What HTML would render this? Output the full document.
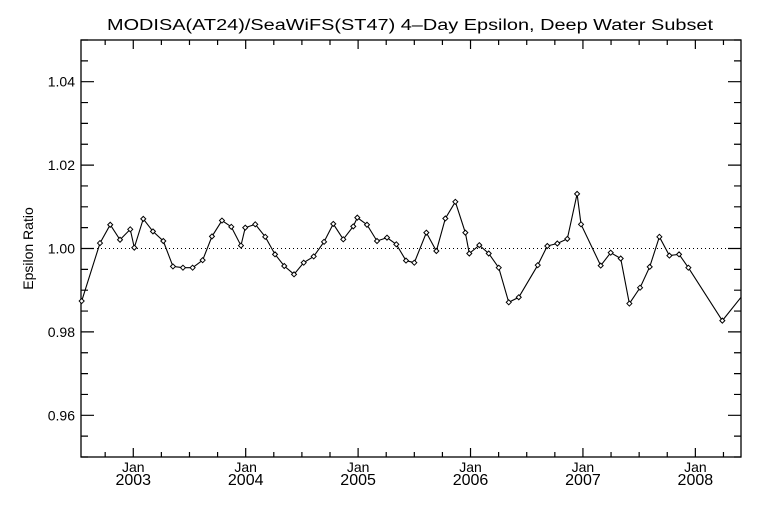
<!DOCTYPE html>
<html><head><meta charset="utf-8"><style>
html,body{margin:0;padding:0;background:#fff;}
svg{display:block;font-family:"Liberation Sans",sans-serif;}
</style></head><body>
<svg id="chart" width="768" height="512" viewBox="0 0 768 512"></svg>
<script>
const years = [2002.541,2002.704,2002.795,2002.882,2002.973,2003.009,2003.089,2003.175,2003.267,2003.353,2003.442,2003.528,2003.617,2003.700,2003.789,2003.872,2003.958,2003.996,2004.085,2004.174,2004.261,2004.343,2004.430,2004.516,2004.605,2004.697,2004.779,2004.868,2004.957,2004.993,2005.079,2005.168,2005.257,2005.340,2005.426,2005.500,2005.607,2005.696,2005.776,2005.865,2005.954,2005.989,2006.078,2006.162,2006.251,2006.340,2006.429,2006.598,2006.683,2006.772,2006.861,2006.948,2006.983,2007.158,2007.247,2007.336,2007.413,2007.508,2007.594,2007.680,2007.769,2007.855,2007.938,2008.240,2008.406];
const epsilon = [0.9874,1.0013,1.0057,1.0021,1.0046,1.0002,1.0071,1.0041,1.0018,0.9957,0.9954,0.9954,0.9972,1.0029,1.0067,1.0052,1.0007,1.0050,1.0058,1.0028,0.9986,0.9958,0.9938,0.9966,0.9981,1.0016,1.0059,1.0022,1.0053,1.0074,1.0057,1.0018,1.0026,1.0010,0.9971,0.9966,1.0038,0.9994,1.0072,1.0112,1.0038,0.9988,1.0008,0.9988,0.9954,0.9871,0.9883,0.9960,1.0006,1.0012,1.0023,1.0131,1.0058,0.9959,0.9990,0.9976,0.9868,0.9906,0.9956,1.0028,0.9983,0.9986,0.9954,0.9827,0.9883];
const yTickLabels = ["0.96","0.98","1.00","1.02","1.04"];
const xTickYears = [2003,2004,2005,2006,2007,2008];

const L=81,R=741,T=40,B=457;
const X0=2002.535,X1=2008.406,Y0=0.95,Y1=1.05;
const sx=v=>L+(v-X0)/(X1-X0)*(R-L);
const sy=v=>B-(v-Y0)/(Y1-Y0)*(B-T);
const svg=document.getElementById('chart');
const NS='http://www.w3.org/2000/svg';
function mk(tag,attrs){const e=document.createElementNS(NS,tag);for(const k in attrs)e.setAttribute(k,attrs[k]);svg.appendChild(e);return e;}

let t=mk('text',{x:107,y:30,'font-size':'15.5',textLength:'606',lengthAdjust:'spacingAndGlyphs'});


t.textContent='MODISA(AT24)/SeaWiFS(ST47) 4\u2013Day Epsilon, Deep Water Subset';

let fr=mk('rect',{x:L,y:T,width:R-L,height:B-T,fill:'none',stroke:'#000','stroke-width':1.3});



for(let i=0;i<=20;i++){
  const v=Y0+i*0.005, y=sy(v), major=(i%4===2);
  const len=major?13:7;
  let tk=mk('path',{d:`M${L},${y}h${len}M${R},${y}h${-len}`,stroke:'#000','stroke-width':1.2});
  
  
}
yTickLabels.forEach(s=>{
  let e=mk('text',{x:L-6,y:sy(parseFloat(s))+5,'text-anchor':'end','font-size':'14'});
  
  
  e.textContent=s;
});
let yt=mk('text',{x:33,y:(T+B)/2,'text-anchor':'middle','font-size':'14',transform:`rotate(-90 33 ${(T+B)/2})`});


yt.textContent='Epsilon Ratio';

for(let q=2002.75;q<=X1;q+=0.25){
  const x=sx(q), major=Math.abs(q-Math.round(q))<1e-6;
  const len=major?9:5;
  let tk=mk('path',{d:`M${x},${B}v${-len}M${x},${T}v${len}`,stroke:'#000','stroke-width':1.2});
  
  
}
xTickYears.forEach(yr=>{
  const x=sx(yr);
  let a=mk('text',{x:x,y:472,'text-anchor':'middle','font-size':'14'});
  
  
  a.textContent='Jan';
  let b=mk('text',{x:x,y:485,'text-anchor':'middle','font-size':'16'});
  
  
  b.textContent=String(yr);
});

let ref=mk('line',{x1:L,x2:R,y1:sy(1),y2:sy(1),stroke:'#000','stroke-width':1,'stroke-dasharray':'1,3'});



const pts=years.map((yr,i)=>[sx(yr),sy(epsilon[i])]);
let ln=mk('polyline',{points:pts.map(p=>p.join(',')).join(' '),fill:'none',stroke:'#000','stroke-width':1.1});


pts.forEach(p=>{
  if(p[0]>R-1)return;
  let m=mk('path',{d:`M${p[0]},${p[1]-2.5}l2.5,2.5l-2.5,2.5l-2.5,-2.5z`,fill:'#fff',stroke:'#000','stroke-width':1});
  
  
});
</script>
</body></html>
